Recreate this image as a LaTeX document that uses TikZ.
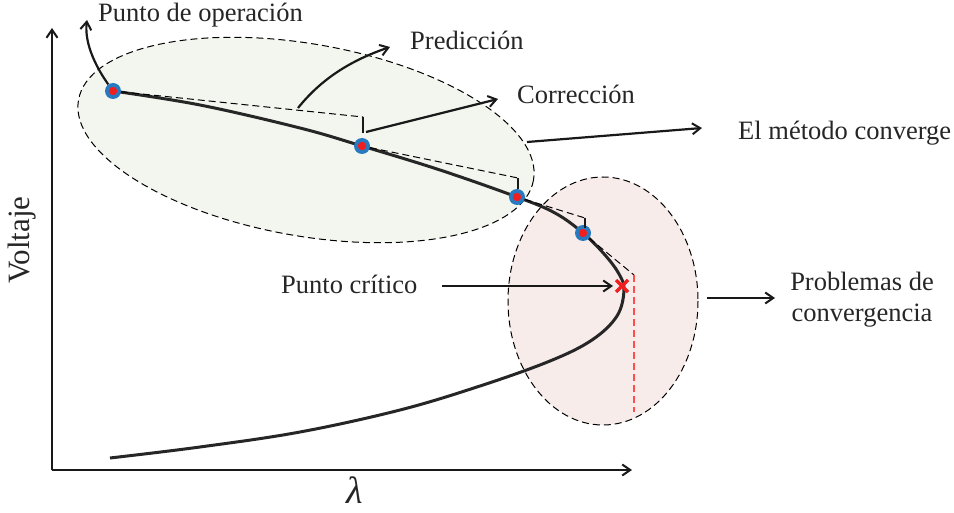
\documentclass[tikz,border=0pt]{standalone}
\usepackage{fontspec}
\setmainfont{Liberation Serif}
\usetikzlibrary{arrows.meta}
\definecolor{ptblue}{RGB}{40,122,192}
\definecolor{ptred}{RGB}{240,30,30}
\definecolor{gfill}{RGB}{243,246,238}
\definecolor{rfill}{RGB}{248,236,235}
\begin{document}
\begin{tikzpicture}[x=1pt,y=-1pt,
  lbl/.style={font=\fontsize{26.5}{31}\selectfont, text=black!85, inner sep=0pt, align=center},
  arr/.style={-{Straight Barb[length=8pt,width=11pt,line width=2pt]}, line width=2.2pt, black!90},
  pred/.style={line width=1pt, dash pattern=on 7pt off 4pt},
  tick/.style={line width=2pt, black!90},
  pt/.style={circle, fill=ptblue, minimum size=16pt, inner sep=0pt, path picture={\fill[ptred] (path picture bounding box.center) circle (4.2pt);}}
]
\useasboundingbox (0,0) rectangle (954,513);
% ellipses
\draw[pred, fill=gfill] (306,140) ellipse [x radius=231, y radius=96, rotate=-10];
\draw[pred, fill=rfill] (603,301) ellipse [x radius=95, y radius=124];
% axes
\coordinate (o) at (52,470);
\coordinate (ytop) at (52,28);
\coordinate (xend) at (632,470);
\draw[arr, line width=1.8pt] (o) -- (ytop);
\draw[arr, line width=1.8pt] (o) -- (xend);
\node[lbl, rotate=90, font=\fontsize{31}{36}\selectfont] (vl) at (22,240) {Voltaje};
\node[lbl, font=\fontsize{38}{44}\selectfont\itshape] (lam) at (355,490) {λ};
% curve
\draw[line width=3pt, black!85] plot[smooth, tension=0.6] coordinates {
 (113,91) (200,105) (300,128) (362,146) (440,170) (517,197) (555,213) (583,233) (605,255) (619,274) (624,290)
 (617,316) (592,340) (550,361) (480,386) (400,410) (300,432) (200,447) (110,458)};
% predictor/corrector
\coordinate (p1) at (363,117);
\coordinate (p2) at (518,178);
\coordinate (p3) at (585,218);
\coordinate (p4) at (634,275);
\coordinate (p5) at (634,412);
\node[pt] (a) at (113,91) {};
\node[pt] (b) at (362,146) {};
\node[pt] (c) at (517,197) {};
\node[pt] (d) at (583,233) {};
\draw[pred] (a) -- (p1);
\draw[tick] (p1) -- ++(0,16);
\draw[pred] (b) -- (p2);
\draw[tick] (p2) -- ++(0,11);
\draw[pred] (c) -- (p3);
\draw[tick] (p3) -- ++(0,10);
\draw[pred] (d) -- (p4);
\draw[pred, red!70!white, line width=1.4pt] (p4) -- (p5);
\coordinate (x) at (622,286);
\draw[ptred, line width=3.5pt] (x) +(-6,-6) -- +(6,6) (x) +(-6,6) -- +(6,-6);
% labels
\node[lbl, anchor=west] (po) at (98,15) {Punto de operación};
\node[lbl, anchor=west] (pr) at (410,40) {Predicción};
\node[lbl, anchor=west] (co) at (517,94) {Corrección};
\node[lbl, anchor=west] (mc) at (738,133) {El método converge};
\node[lbl, anchor=west] (pc) at (281,284) {Punto crítico};
\node[lbl] (pb) at (862,300) {Problemas de\\convergencia};
% arrows
\coordinate (s1) at (298,108);
\coordinate (s2) at (366,132);
\coordinate (s3) at (527,142);
\coordinate (s4) at (707,298);
\coordinate (s5) at (442,286);
\coordinate (e5) at (613,286);
\coordinate (e0) at (87,20);
\coordinate (e1) at (390,47);
\draw[arr] (a) .. controls (98,70) and (84,45) .. (e0);
\draw[arr] (s1) .. controls (322,78) and (352,60) .. (e1);
\draw[arr] (s2) -- (498,99);
\draw[arr] (s3) -- (702,128);
\draw[arr] (s5) -- (e5);
\draw[arr] (s4) -- (775,298);
\end{tikzpicture}
\end{document}
